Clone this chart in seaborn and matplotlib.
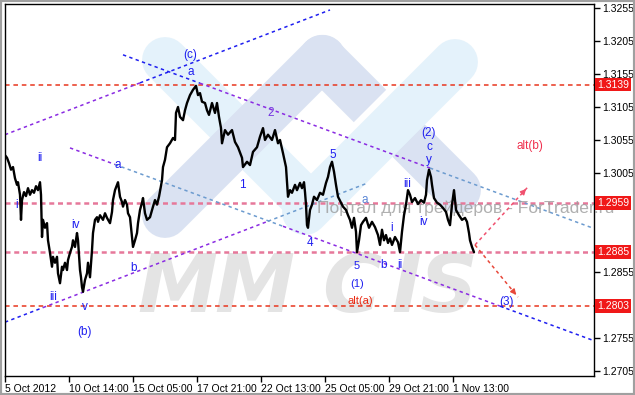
import matplotlib
matplotlib.use("Agg")
import matplotlib.pyplot as plt
import seaborn as sns
import pandas as pd
from matplotlib.patches import Rectangle
from matplotlib.transforms import blended_transform_factory

# ---------------- data ----------------
bar_index = [0, 2, 4, 6, 8, 10, 12, 13, 15, 16, 17, 19, 21, 23, 25, 27, 29, 31, 33, 35,
             36, 37, 38, 40, 42, 43, 45, 47, 48, 50, 52, 53, 55, 57, 58, 60, 62, 63, 65, 67,
             68, 70, 72, 73, 75, 76, 77, 78, 80, 82, 83, 85, 87, 88, 90, 92, 93, 95, 98, 100,
             102, 105, 107, 108, 110, 113, 115, 117, 118, 120, 122, 123, 125, 127, 128, 130, 132, 133, 135, 137,
             138, 140, 142, 145, 148, 150, 152, 154, 157, 158, 160, 162, 165, 168, 170, 171, 173, 175, 178, 180,
             182, 185, 188, 191, 193, 195, 197, 200, 202, 204, 207, 210, 212, 214, 216, 217, 220, 223, 227, 230,
             233, 237, 238, 242, 245, 248, 252, 255, 258, 260, 263, 267, 270, 273, 275, 278, 281, 283, 285, 287,
             290, 292, 295, 297, 299, 300, 301, 302, 303, 305, 307, 309, 312, 315, 318, 321, 323, 325, 327, 329,
             331, 333, 336, 338, 341, 343, 345, 347, 349, 351, 352, 354, 356, 358, 361, 364, 367, 370, 373, 375,
             377, 379, 381, 383, 385, 387, 390, 393, 395, 397, 399, 401, 403, 405, 407, 410, 413, 416, 419, 421,
             422, 424, 426, 427, 429, 432, 435, 438, 441, 443, 445, 447, 449, 451, 454, 457, 460, 462, 464, 465,
             467, 469]
close = [1.3032, 1.3028, 1.3020, 1.3010, 1.3014, 1.2997, 1.2987, 1.2991, 1.2972, 1.2934, 1.2964, 1.2976, 1.2970, 1.2982, 1.2972, 1.2979, 1.2975, 1.2985, 1.2979, 1.2991,
         1.2972, 1.2908, 1.2934, 1.2922, 1.2929, 1.2903, 1.2884, 1.2863, 1.2878, 1.2869, 1.2878, 1.2853, 1.2838, 1.2863, 1.2858, 1.2869, 1.2858, 1.2873, 1.2884, 1.2893,
         1.2903, 1.2893, 1.2914, 1.2903, 1.2858, 1.2847, 1.2832, 1.2825, 1.2843, 1.2853, 1.2869, 1.2847, 1.2888, 1.2914, 1.2934, 1.2938, 1.2931, 1.2941, 1.2934, 1.2944,
         1.2937, 1.2929, 1.2946, 1.2964, 1.2979, 1.2991, 1.2969, 1.2961, 1.2954, 1.2964, 1.2957, 1.2944, 1.2938, 1.2908, 1.2893, 1.2903, 1.2914, 1.2929, 1.2949, 1.2960,
         1.2967, 1.2944, 1.2934, 1.2938, 1.2954, 1.2964, 1.2957, 1.2969, 1.2994, 1.3014, 1.3025, 1.3044, 1.3050, 1.3058, 1.3055, 1.3096, 1.3105, 1.3090, 1.3085, 1.3100,
         1.3111, 1.3123, 1.3131, 1.3137, 1.3123, 1.3126, 1.3113, 1.3111, 1.3100, 1.3093, 1.3111, 1.3096, 1.3111, 1.3090, 1.3073, 1.3050, 1.3070, 1.3063, 1.3070, 1.3052,
         1.3044, 1.3028, 1.3014, 1.3022, 1.3017, 1.3037, 1.3044, 1.3060, 1.3073, 1.3055, 1.3063, 1.3055, 1.3070, 1.3050, 1.3055, 1.3035, 1.3014, 1.2969, 1.2979, 1.2975,
         1.2987, 1.2979, 1.2990, 1.2982, 1.2991, 1.2976, 1.2957, 1.2926, 1.2922, 1.2949, 1.2957, 1.2969, 1.2964, 1.2975, 1.2972, 1.2990, 1.2999, 1.3014, 1.3022, 1.3007,
         1.2987, 1.2969, 1.2960, 1.2954, 1.2949, 1.2941, 1.2934, 1.2922, 1.2937, 1.2916, 1.2885, 1.2903, 1.2926, 1.2931, 1.2937, 1.2922, 1.2931, 1.2923, 1.2911, 1.2896,
         1.2919, 1.2903, 1.2911, 1.2899, 1.2906, 1.2896, 1.2908, 1.2900, 1.2885, 1.2916, 1.2941, 1.2957, 1.2979, 1.2972, 1.2961, 1.2967, 1.2958, 1.2964, 1.2960, 1.2972,
         1.2994, 1.3010, 1.2999, 1.2987, 1.2967, 1.2960, 1.2957, 1.2952, 1.2946, 1.2934, 1.2926, 1.2957, 1.2979, 1.2949, 1.2941, 1.2934, 1.2937, 1.2931, 1.2914, 1.2903,
         1.2893, 1.2885]

x_tick_pos = [0, 64, 128, 192, 256, 320, 384, 448]
x_tick_labels = ["5 Oct 2012", "10 Oct 14:00", "15 Oct 05:00", "17 Oct 21:00",
                 "22 Oct 13:00", "25 Oct 05:00", "29 Oct 21:00", "1 Nov 13:00"]
y_tick_values = [1.2705, 1.2755, 1.2855, 1.3005, 1.3055, 1.3105, 1.3155, 1.3205, 1.3255]

level_values = [1.3139, 1.2959, 1.2885, 1.2803]
level_labels = ["1.3139", "1.2959", "1.2885", "1.2803"]

# trend lines: start x, start price, end x, end price
line_x0 = [0, 118, 65, 0]
line_p0 = [1.3063, 1.3184, 1.3043, 1.2779]
line_x1 = [325, 587, 587, 363]
line_p1 = [1.3252, 1.2922, 1.2752, 1.2990]

# forecast arrows
arrow_x0 = [470, 470]
arrow_p0 = [1.2896, 1.2896]
arrow_x1 = [523, 513]
arrow_p1 = [1.2984, 1.2817]

wave_text = ["(c)", "a", "2", "ii", "a", "1", "5", "4", "i", "iv", "iii", "v", "(b)", "b",
             "a", "5", "(1)", "b", "ii", "alt(a)", "iii", "i", "iv", "(2)", "c", "y", "alt(b)", "(3)"]
wave_x = [185, 186, 266, 35, 113, 237, 328, 305, 12, 70, 48, 80, 80, 129,
          360, 352, 352, 379, 395, 355, 402, 387, 419, 423, 424, 424, 525, 502]
wave_p = [1.3184, 1.3158, 1.3096, 1.3028, 1.3017, 1.2987, 1.3032, 1.2899, 1.2957, 1.2926, 1.2817, 1.2802, 1.2764, 1.2861,
          1.2964, 1.2864, 1.2837, 1.2866, 1.2866, 1.2811, 1.2988, 1.2922, 1.2931, 1.3066, 1.3044, 1.3025, 1.3046, 1.2810]
wave_size = [8.5, 8.5, 8.5, 8.5, 8.5, 8.5, 8.5, 8.5, 8.5, 8.5, 8.5, 8.5, 8.5, 8.5,
             8.5, 8, 8, 8.5, 8.5, 8, 8.5, 8.5, 8.5, 8.5, 8.5, 8.5, 8.5, 8.5]

# ---------------- styles ----------------
BLUE = "#1f1ff0"
PURPLE = "#8a2be2"
STEEL = "#6c9bcf"
wave_colors = [BLUE, BLUE, "#7436e0", BLUE, BLUE, BLUE, BLUE, BLUE, BLUE, BLUE, BLUE, BLUE, BLUE, BLUE,
               "#5a86d6", BLUE, BLUE, BLUE, BLUE, "#ea2a12", BLUE, BLUE, BLUE, BLUE, BLUE, BLUE, "#f0304e", BLUE]
line_segments = [
    [(0, 135, PURPLE), (135, 325, BLUE)],
    [(118, 195, BLUE), (195, 425, PURPLE), (425, 587, STEEL)],
    [(65, 110, PURPLE), (110, 278, STEEL), (278, 495, PURPLE), (495, 587, BLUE)],
    [(0, 38, BLUE), (38, 263, PURPLE), (263, 363, STEEL)],
]
level_styles = [("#e8361e", 1.1, (0, (3, 2.5))), ("#e6789a", 1.8, (0, (2, 1.5))),
                ("#e6789a", 1.8, (0, (2, 1.5))), ("#e8361e", 1.1, (0, (3, 2.5)))]
arrow_colors = ["#f0506e", "#e8483a"]

sns.set_theme(style="white")
plt.rcParams["font.family"] = ["Liberation Sans", "DejaVu Sans"]

W, H = 635, 395
fig = plt.figure(figsize=(W / 100, H / 100), dpi=100)
L, R, T, B = 4.5, 593.5, 4.0, 375.5
ax = fig.add_axes([L / W, (H - B) / H, (R - L) / W, (B - T) / H])
ax.set_xlim(-0.5, 588.5)
ax.set_ylim(1.26982, 1.32610)


def pix(px, py):
    return ((px - L) / (R - L), (B - py) / (B - T))


# ---------- logo watermark (decoration) ----------
LB, LV = "#e4f2fb", "#dae2f2"
bands = [
    ((165, 60), (310, 205), LB, "round"),
    ((165, 215), (322, 58), LV, "round"),
    ((322, 58), (370, 106), LV, "butt"),
    ((410, 142), (458, 190), LV, "round"),
    ((305, 212), (455, 62), LB, "round"),
]
for (a, b, c, cap) in bands:
    p0, p1 = pix(*a), pix(*b)
    ax.plot([p0[0], p1[0]], [p0[1], p1[1]], transform=ax.transAxes, color=c,
            lw=33, solid_capstyle=cap, zorder=0.1)
    if cap == "butt":
        ax.plot([p0[0]], [p0[1]], transform=ax.transAxes, color=c, marker="o",
                ms=33, zorder=0.1)

for ch, cx in zip("MMCIS", [177, 254, 352, 406, 449]):
    xx, yy = pix(cx, 290)
    ax.text(xx, yy, ch, transform=ax.transAxes, ha="center", va="center",
            fontsize=58, fontweight="bold", fontstyle="italic", family="DejaVu Sans",
            color="#e4e4e4", zorder=0.2)

# ---------- horizontal levels ----------
for v, (c, lw, ls) in zip(level_values, level_styles):
    ax.axhline(v, color=c, lw=lw, ls=ls, zorder=1)

# ---------- trend lines ----------
for i, segs in enumerate(line_segments):
    x0, p0, x1, p1 = line_x0[i], line_p0[i], line_x1[i], line_p1[i]
    for (sa, sb, c) in segs:
        pa = p0 + (p1 - p0) * (sa - x0) / (x1 - x0)
        pb = p0 + (p1 - p0) * (sb - x0) / (x1 - x0)
        ax.plot([sa, sb], [pa, pb], color=c, lw=1.1, ls=(0, (2.2, 2.2)), zorder=2)

# ---------- watermark site text ----------
sx, sy = pix(317, 208)
ax.text(sx, sy, "Портал для трейдеров - ForTrader.ru", transform=ax.transAxes,
        ha="left", va="center", fontsize=12.6, color="#9c9c9c", alpha=0.8,
        zorder=2.5, clip_on=False)

# ---------- price ----------
df = pd.DataFrame({"bar": bar_index, "price": close})
sns.lineplot(data=df, x="bar", y="price", color="black", lw=1.7, ax=ax, zorder=3)

# ---------- forecast arrows ----------
for i in range(2):
    ax.plot([arrow_x0[i], arrow_x1[i]], [arrow_p0[i], arrow_p1[i]], color=arrow_colors[i],
            lw=1.1, ls=(0, (2.2, 2.2)), zorder=3)
    dx = arrow_x1[i] - arrow_x0[i]
    dp = arrow_p1[i] - arrow_p0[i]
    ax.annotate("", xy=(arrow_x1[i], arrow_p1[i]),
                xytext=(arrow_x1[i] - 0.12 * dx, arrow_p1[i] - 0.12 * dp),
                arrowprops=dict(arrowstyle="-|>", color=arrow_colors[i], lw=1,
                                mutation_scale=8), zorder=3)

# ---------- wave labels ----------
for t, x, p, c, fs in zip(wave_text, wave_x, wave_p, wave_colors, wave_size):
    ax.text(x, p, t, ha="center", va="center", fontsize=fs, color=c, zorder=4)

# ---------- axes ----------
ax.set_xlabel("")
ax.set_ylabel("")
ax.yaxis.tick_right()
ax.set_yticks(y_tick_values)
ax.set_yticklabels([f"{v:.4f}" for v in y_tick_values])
ax.set_xticks(x_tick_pos)
ax.set_xticklabels(x_tick_labels, ha="left")
ax.tick_params(axis="both", direction="out", length=4, width=1, color="black",
               labelsize=7.5, labelcolor="black", pad=2)
ax.tick_params(axis="y", right=True, left=False)
ax.tick_params(axis="x", bottom=True)
for s in ax.spines.values():
    s.set_color("black")
    s.set_linewidth(1)
    s.set_visible(True)

trans = blended_transform_factory(ax.transAxes, ax.transData)
for v, lab in zip(level_values, level_labels):
    ax.text(1.0065, v, lab, transform=trans, ha="left", va="center", fontsize=7.5,
            color="white", zorder=6, clip_on=False,
            bbox=dict(boxstyle="square,pad=0.18", fc="#f01818", ec="none"))

fig.add_artist(Rectangle((0, 0), 1, 1, transform=fig.transFigure, fill=False,
                         ec="#a0a0a0", lw=3))

fig.savefig("out.png", dpi=100)
